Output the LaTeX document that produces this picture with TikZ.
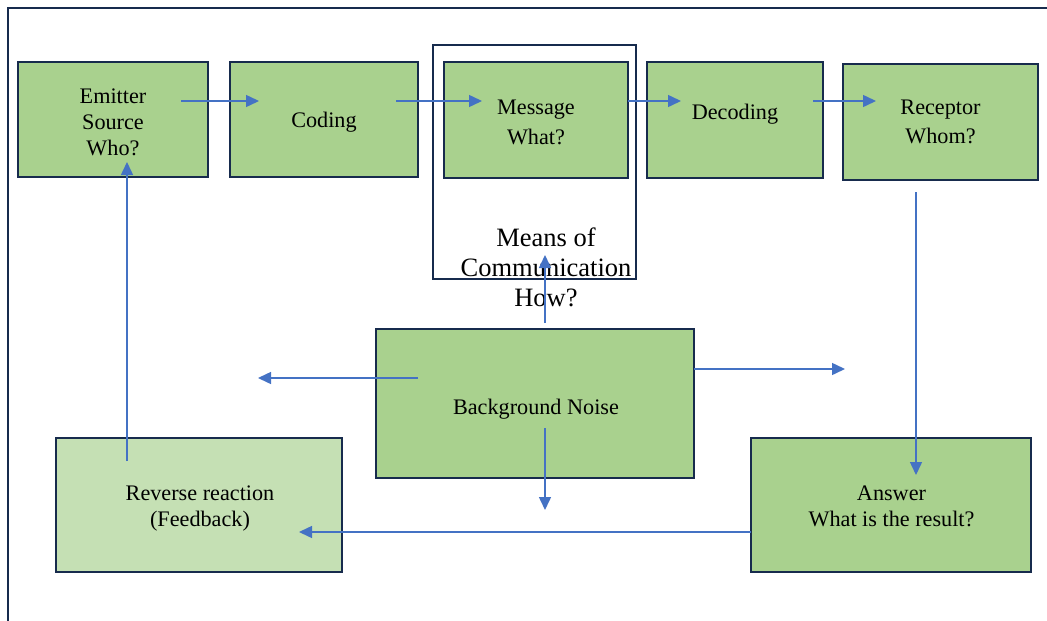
\documentclass[tikz,border=0pt]{standalone}
\usepackage{fontspec}
\setmainfont{Liberation Serif}
\usetikzlibrary{arrows.meta}
\definecolor{boxgreen}{HTML}{A9D18E}
\definecolor{palegreen}{HTML}{C5E0B4}
\definecolor{navy}{HTML}{172B4D}
\definecolor{flow}{HTML}{4472C4}
\tikzset{
  stage/.style={draw=navy, line width=2.4pt, fill=boxgreen, inner sep=0pt},
  label/.style={align=center, font=\fontsize{22.2}{26}\selectfont, text=black},
  frame/.style={draw=navy, line width=2pt},
  flowline/.style={draw=flow, line width=1.5pt, -{Triangle[length=13pt,width=12pt]}},
}
\begin{document}
\begin{tikzpicture}[x=1pt,y=-1pt]
\useasboundingbox (0,0) rectangle (1047,621);
% outer frame (top and left edges)
\draw[frame] (1047,7.5) -- (7.5,7.5) -- (7.5,621);
% top row of stages
\node[stage, minimum width=190pt, minimum height=115pt] (emitter) at (113,119.5) {};
\node[label] (emittertext) at (113,122) {Emitter\\Source\\Who?};
\node[stage, minimum width=188pt, minimum height=115pt] (coding) at (324,119.5) {};
\node[label] (codingtext) at (324,122) {Coding};
\node[frame, minimum width=203pt, minimum height=234pt, inner sep=0pt] (means) at (534.5,162) {};
\node[stage, minimum width=184pt, minimum height=116pt] (message) at (536,120) {};
\node[label, font=\fontsize{22.2}{30}\selectfont] (messagetext) at (536,122) {Message\\What?};
\node[stage, minimum width=176pt, minimum height=116pt] (decoding) at (735,120) {};
\node[label] (decodingtext) at (735,114) {Decoding};
\node[stage, minimum width=195pt, minimum height=116pt] (receptor) at (940.5,122) {};
\node[label, font=\fontsize{22.2}{29}\selectfont] (receptortext) at (940.5,121.5) {Receptor\\Whom?};
\node[label, font=\fontsize{26.5}{30}\selectfont] (meanstext) at (546,267) {Means of\\Communication\\How?};
% middle and bottom stages
\node[stage, minimum width=318pt, minimum height=149pt] (noise) at (535,403.5) {};
\node[label] (noisetext) at (536,409) {Background Noise};
\node[stage, fill=palegreen, minimum width=286pt, minimum height=134pt] (reverse) at (199,505) {};
\node[label] (reversetext) at (200,509) {Reverse reaction\\(Feedback)};
\node[stage, minimum width=280pt, minimum height=134pt] (answer) at (891,505) {};
\node[label] (answertext) at (891.5,506) {Answer\\What is the result?};
% connector end points
\coordinate (e1) at (181,101);   \coordinate (c0) at (259,101);
\coordinate (c1) at (396,101);   \coordinate (m0) at (482,101);
\coordinate (m1) at (628,101);   \coordinate (d0) at (681,101);
\coordinate (d1) at (813,101);   \coordinate (r0) at (876,101);
\coordinate (r1) at (916,192);   \coordinate (a0) at (916,475);
\coordinate (a1) at (751,532);   \coordinate (f0) at (299,532);
\coordinate (f1) at (127,461);   \coordinate (e0) at (127,162);
\coordinate (nu1) at (545,323);  \coordinate (nu0) at (545,255);
\coordinate (nl1) at (418,378);  \coordinate (nl0) at (258,378);
\coordinate (nr1) at (694,369);  \coordinate (nr0) at (845,369);
\coordinate (nd1) at (545,428);  \coordinate (nd0) at (545,510);
% flows
\draw[flowline] (e1) -- (c0);
\draw[flowline] (c1) -- (m0);
\draw[flowline] (m1) -- (d0);
\draw[flowline] (d1) -- (r0);
\draw[flowline] (r1) -- (a0);
\draw[flowline] (a1) -- (f0);
\draw[flowline] (f1) -- (e0);
\draw[flowline] (nu1) -- (nu0);
\draw[flowline] (nl1) -- (nl0);
\draw[flowline] (nr1) -- (nr0);
\draw[flowline] (nd1) -- (nd0);
\end{tikzpicture}
\end{document}
